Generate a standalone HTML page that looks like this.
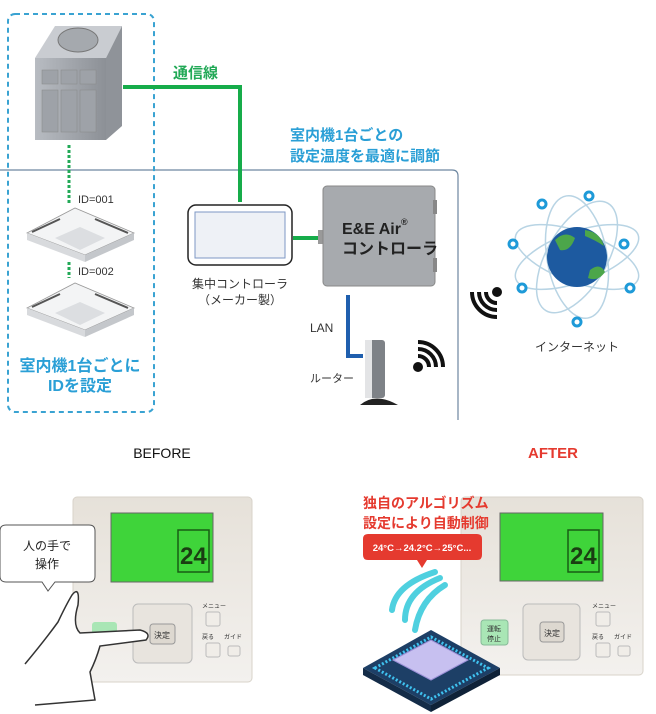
<!DOCTYPE html>
<html><head><meta charset="utf-8"><style>
html,body{margin:0;padding:0;background:#fff;width:656px;height:714px;overflow:hidden}
svg{display:block}
text{font-family:"Liberation Sans","Noto Sans CJK JP",sans-serif}
</style></head><body>
<svg width="656" height="714" viewBox="0 0 656 714" xmlns="http://www.w3.org/2000/svg">
<defs>
<linearGradient id="gb" x1="0" y1="0" x2="1" y2="0"><stop offset="0" stop-color="#b8bcc2"/><stop offset="1" stop-color="#8c9096"/></linearGradient>
<linearGradient id="pn" x1="0" y1="0" x2="0" y2="1"><stop offset="0" stop-color="#e6e1d9"/><stop offset="1" stop-color="#f3f1ee"/></linearGradient>
</defs>
<path d="M0 170 H452 Q458 170 458 176 V420" fill="none" stroke="#6d86a0" stroke-width="1.2"/>
<rect x="8" y="14" width="146" height="398" rx="7" fill="none" stroke="#3aa3d2" stroke-width="2" stroke-dasharray="5 4"/>
<polygon points="35,58 55,26 122,26 106,58" fill="#c9ccd1"/>
<polygon points="106,58 122,26 122,126 106,140" fill="#8f9399"/>
<rect x="35" y="58" width="71" height="82" fill="url(#gb)"/>
<ellipse cx="78" cy="40" rx="20" ry="12" fill="#a5a9ae" stroke="#777" stroke-width="1"/>
<g fill="#9ea2a8" stroke="#888" stroke-width="0.5"><rect x="42" y="70" width="16" height="14"/><rect x="61" y="70" width="16" height="14"/><rect x="80" y="70" width="16" height="14"/><rect x="42" y="90" width="16" height="42"/><rect x="61" y="90" width="16" height="42"/><rect x="80" y="90" width="16" height="42"/></g>
<path d="M123 87 H240 V202" fill="none" stroke="#16ac4a" stroke-width="4"/>
<text x="173" y="78" font-size="15" font-weight="bold" fill="#22a957">通信線</text>
<text x="290" y="140" font-size="15" font-weight="bold" fill="#2a9fd6">室内機1台ごとの</text>
<text x="290" y="161" font-size="15" font-weight="bold" fill="#2a9fd6">設定温度を最適に調節</text>
<line x1="69" y1="145" x2="69" y2="205" stroke="#22a957" stroke-width="3" stroke-dasharray="3 2"/>
<line x1="69" y1="262" x2="69" y2="278" stroke="#22a957" stroke-width="3" stroke-dasharray="3 2"/>
<text x="78" y="203" font-size="11" fill="#333">ID=001</text>
<text x="78" y="275" font-size="11" fill="#333">ID=002</text>
<g>
<polygon points="27,233 75,208 134,233 85,255" fill="#f3f4f5" stroke="#999" stroke-width="0.8"/>
<polygon points="27,233 85,255 85,262 27,240" fill="#d8dadd"/>
<polygon points="85,255 134,233 134,240 85,262" fill="#c4c7cb"/>
<polygon points="55,238 80,227 105,238 80,250" fill="#dcdee1"/>
<line x1="32" y1="232" x2="60" y2="219" stroke="#555" stroke-width="2"/>
<line x1="95" y1="219" x2="128" y2="233" stroke="#555" stroke-width="2"/>
</g>
<g transform="translate(0,75)">
<polygon points="27,233 75,208 134,233 85,255" fill="#f3f4f5" stroke="#999" stroke-width="0.8"/>
<polygon points="27,233 85,255 85,262 27,240" fill="#d8dadd"/>
<polygon points="85,255 134,233 134,240 85,262" fill="#c4c7cb"/>
<polygon points="55,238 80,227 105,238 80,250" fill="#dcdee1"/>
<line x1="32" y1="232" x2="60" y2="219" stroke="#555" stroke-width="2"/>
<line x1="95" y1="219" x2="128" y2="233" stroke="#555" stroke-width="2"/>
</g>
<text x="80" y="371" font-size="16" font-weight="bold" fill="#2a9fd6" text-anchor="middle">室内機1台ごとに</text>
<text x="80" y="391" font-size="16" font-weight="bold" fill="#2a9fd6" text-anchor="middle">IDを設定</text>
<rect x="188" y="205" width="104" height="60" rx="8" fill="#fff" stroke="#222" stroke-width="1.5"/>
<rect x="195" y="212" width="90" height="46" fill="#eef1f6" stroke="#7d97c4" stroke-width="1"/>
<text x="240" y="288" font-size="12" fill="#333" text-anchor="middle">集中コントローラ</text>
<text x="240" y="304" font-size="12" fill="#333" text-anchor="middle">（メーカー製）</text>
<line x1="293" y1="238" x2="321" y2="238" stroke="#16ac4a" stroke-width="4"/>
<rect x="318" y="230" width="6" height="14" fill="#999"/>
<rect x="323" y="186" width="112" height="100" rx="4" fill="#a7aaae" stroke="#888"/>
<rect x="433" y="200" width="4" height="14" fill="#888"/><rect x="433" y="258" width="4" height="14" fill="#888"/>
<text x="342" y="234" font-size="16" font-weight="bold" fill="#222">E&amp;E Air</text>
<text x="401" y="225" font-size="9" font-weight="bold" fill="#222">®</text>
<text x="342" y="254" font-size="16" font-weight="bold" fill="#222">コントローラ</text>
<path d="M348 295 V356 H363" fill="none" stroke="#1f5fae" stroke-width="4"/>
<text x="310" y="332" font-size="12" fill="#333">LAN</text>
<text x="310" y="382" font-size="11" fill="#333">ルーター</text>
<rect x="365" y="340" width="20" height="58" rx="3" fill="#7e8287"/>
<rect x="365" y="340" width="7" height="58" fill="#e3e4e6"/>
<path d="M360 405 Q375 392 398 405 Z" fill="#222"/>
<g transform="translate(418,367)">
<circle cx="0" cy="0" r="5" fill="#111"/>
<path d="M0 -11 A11 11 0 0 1 11 0" fill="none" stroke="#111" stroke-width="4"/>
<path d="M0 -18 A18 18 0 0 1 18 0" fill="none" stroke="#111" stroke-width="4"/>
<path d="M0 -25 A25 25 0 0 1 25 0" fill="none" stroke="#111" stroke-width="4"/>
</g>
<g transform="translate(497,292)">
<circle cx="0" cy="0" r="5" fill="#111"/>
<path d="M-11 0 A11 11 0 0 0 0 11" fill="none" stroke="#111" stroke-width="4"/>
<path d="M-18 0 A18 18 0 0 0 0 18" fill="none" stroke="#111" stroke-width="4"/>
<path d="M-25 0 A25 25 0 0 0 0 25" fill="none" stroke="#111" stroke-width="4"/>
</g>
<g fill="none" stroke="#b8d4e4" stroke-width="1.5">
<ellipse cx="577" cy="257" rx="65" ry="25" transform="rotate(20 577 257)"/>
<ellipse cx="577" cy="257" rx="65" ry="25" transform="rotate(-20 577 257)"/>
<ellipse cx="577" cy="257" rx="62" ry="30" transform="rotate(80 577 257)"/>
<ellipse cx="577" cy="257" rx="62" ry="30" transform="rotate(-60 577 257)"/>
</g>
<circle cx="577" cy="257" r="30" fill="#1d5aa0"/>
<path d="M555 240 Q565 230 575 238 Q570 252 560 250 Z" fill="#4ca64a"/>
<path d="M590 270 Q600 262 605 272 Q598 282 588 278 Z" fill="#4ca64a"/>
<path d="M585 230 Q600 232 604 246 Q595 240 585 236 Z" fill="#4ca64a"/>
<g fill="#fff" stroke="#1e9ad8" stroke-width="3">
<circle cx="589" cy="196" r="4"/><circle cx="542" cy="204" r="4"/><circle cx="513" cy="244" r="4"/><circle cx="624" cy="244" r="4"/><circle cx="522" cy="288" r="4"/><circle cx="630" cy="288" r="4"/><circle cx="577" cy="322" r="4"/>
</g>
<text x="577" y="351" font-size="12" fill="#333" text-anchor="middle">インターネット</text>
<text x="162" y="458" font-size="14" fill="#111" text-anchor="middle">BEFORE</text>
<text x="553" y="458" font-size="15" font-weight="bold" fill="#e53a2f" text-anchor="middle">AFTER</text>
<!-- left panel -->
<rect x="73" y="497" width="179" height="185" rx="4" fill="url(#pn)" stroke="#d8d3ca"/>
<rect x="111" y="513" width="102" height="69" fill="#3fd43a" stroke="#666"/>
<rect x="178" y="530" width="31" height="42" fill="none" stroke="#195c14" stroke-width="1.5"/>
<text x="180" y="564" font-size="24" font-weight="bold" fill="#1a3d12">24</text>
<rect x="133" y="604" width="59" height="59" rx="5" fill="#e8e4de" stroke="#bbb"/>
<rect x="150" y="624" width="25" height="20" rx="3" fill="#ddd8d0" stroke="#999"/>
<text x="162" y="638" font-size="8" fill="#333" text-anchor="middle">決定</text>
<rect x="206" y="612" width="14" height="14" rx="2" fill="#f0ede8" stroke="#bbb"/>
<rect x="206" y="643" width="14" height="14" rx="2" fill="#f0ede8" stroke="#bbb"/>
<rect x="228" y="646" width="12" height="10" rx="2" fill="#f0ede8" stroke="#bbb"/>
<text x="202" y="639" font-size="6" fill="#333">戻る</text><text x="224" y="639" font-size="6" fill="#333">ガイド</text>
<text x="202" y="608" font-size="6" fill="#333">メニュー</text>
<rect x="92" y="622" width="25" height="18" rx="3" fill="#a9e6b5"/>
<!-- right panel -->
<rect x="461" y="497" width="182" height="178" rx="4" fill="url(#pn)" stroke="#d8d3ca"/>
<rect x="500" y="513" width="103" height="68" fill="#3fd43a" stroke="#666"/>
<rect x="568" y="530" width="31" height="42" fill="none" stroke="#195c14" stroke-width="1.5"/>
<text x="570" y="564" font-size="24" font-weight="bold" fill="#1a3d12">24</text>
<rect x="523" y="604" width="57" height="56" rx="5" fill="#e8e4de" stroke="#bbb"/>
<rect x="540" y="622" width="24" height="20" rx="3" fill="#ddd8d0" stroke="#999"/>
<text x="552" y="636" font-size="8" fill="#333" text-anchor="middle">決定</text>
<rect x="596" y="612" width="14" height="14" rx="2" fill="#f0ede8" stroke="#bbb"/>
<rect x="596" y="643" width="14" height="14" rx="2" fill="#f0ede8" stroke="#bbb"/>
<rect x="618" y="646" width="12" height="10" rx="2" fill="#f0ede8" stroke="#bbb"/>
<text x="592" y="639" font-size="6" fill="#333">戻る</text><text x="614" y="639" font-size="6" fill="#333">ガイド</text>
<text x="592" y="608" font-size="6" fill="#333">メニュー</text>
<rect x="481" y="620" width="27" height="25" rx="3" fill="#a9e6b5" stroke="#8b9"/>
<text x="494" y="631" font-size="7" fill="#333" text-anchor="middle">運転</text>
<text x="494" y="641" font-size="7" fill="#333" text-anchor="middle">停止</text>
<!-- bubble -->
<path d="M6 525 H89 Q95 525 95 531 V576 Q95 582 89 582 H55 L48 591 L42 582 H6 Q0 582 0 576 V531 Q0 525 6 525 Z" fill="#fff" stroke="#555" stroke-width="1"/>
<text x="47" y="550" font-size="12" fill="#222" text-anchor="middle">人の手で</text>
<text x="47" y="568" font-size="12" fill="#222" text-anchor="middle">操作</text>
<!-- hand -->
<path d="M25 664 Q45 640 58 622 Q66 605 72 595 Q80 585 78 605 Q72 625 80 633 L140 630 Q152 633 146 640 L100 646 Q96 660 90 672 L95 700 L35 705" fill="#fff" stroke="#333" stroke-width="1.5"/>
<!-- AFTER text -->
<text x="363" y="508" font-size="14" font-weight="bold" fill="#e53a2f">独自のアルゴリズム</text>
<text x="363" y="528" font-size="14" font-weight="bold" fill="#e53a2f">設定により自動制御</text>
<path d="M368 534 H477 Q482 534 482 539 V555 Q482 560 477 560 H427 L422 568 L417 560 H368 Q363 560 363 555 V539 Q363 534 368 534 Z" fill="#e53a2f"/>
<text x="422" y="551" font-size="9.5" font-weight="bold" fill="#fff" text-anchor="middle">24°C→24.2°C→25°C...</text>
<g fill="none" stroke="#4fd0df" stroke-width="6" stroke-linecap="round">
<path d="M415 630 Q420 600 445 585"/>
<path d="M405 620 Q405 592 440 578"/>
<path d="M392 610 Q395 585 435 572"/>
</g>
<polygon points="363,668 431,630 500,668 431,705" fill="#1d3f66"/>
<polygon points="363,668 431,705 431,712 363,675" fill="#142c48"/>
<polygon points="431,705 500,668 500,675 431,712" fill="#0f2238"/>
<polygon points="375,668 431,637 488,668 431,699" fill="none" stroke="#3fc2f0" stroke-width="3" stroke-dasharray="2 2"/>
<polygon points="393,660 431,640 468,660 431,680" fill="#c7c0f0" stroke="#9b90d8"/>
</svg>
</body></html>
